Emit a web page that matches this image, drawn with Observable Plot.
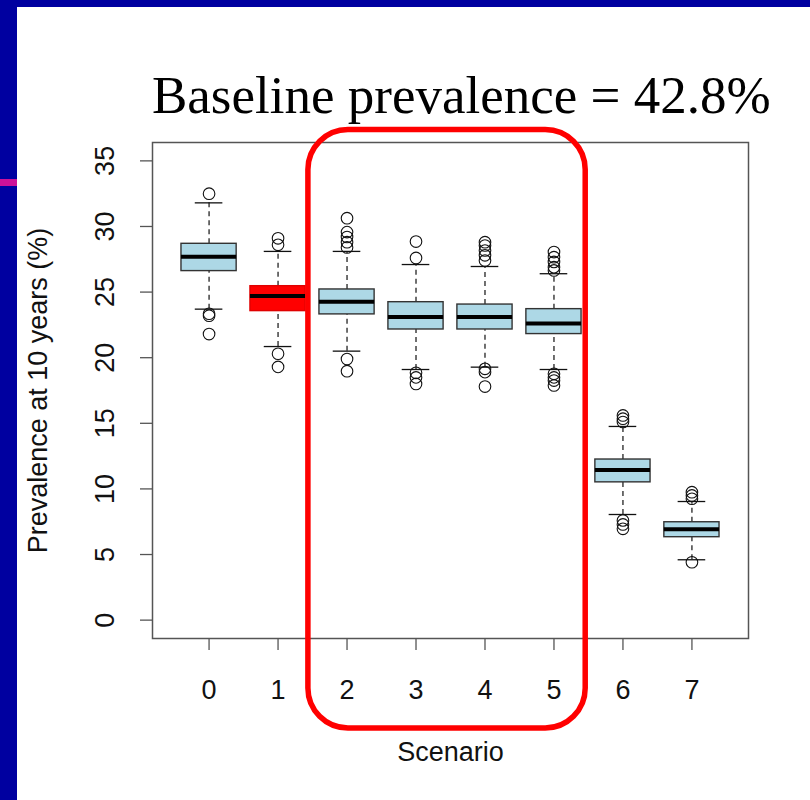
<!DOCTYPE html>
<html>
<head>
<meta charset="utf-8">
<script src="https://cdn.jsdelivr.net/npm/d3@7"></script>
<script src="https://cdn.jsdelivr.net/npm/@observablehq/plot@0.6"></script>
<style>
  body { margin: 0; background: #fff; }
  #wrap { position: relative; width: 810px; height: 800px; background: #fff; overflow: hidden; }
  #chart { position: absolute; left: 0; top: 0; }
  .band { position: absolute; background: #0000a0; }
</style>
</head>
<body>
<div id="wrap">
  <div id="chart"></div>
  <div class="band" style="left:0;top:0;width:810px;height:7px"></div>
  <div class="band" style="left:0;top:0;width:17px;height:800px"></div>
  <div style="position:absolute;left:0;top:179px;width:17px;height:7px;background:#cc1199"></div>
</div>
<script>
const titleText = "Baseline prevalence = 42.8%";
const xLabel = "Scenario";
const yLabel = "Prevalence at 10 years (%)";

const scenarios = [0, 1, 2, 3, 4, 5, 6, 7];
const q1 =          [26.6, 23.55, 23.3, 22.15, 22.15, 21.8, 10.5, 6.32];
const median =      [27.7, 24.7, 24.26, 23.1, 23.1, 22.6, 11.45, 6.93];
const q3 =          [28.68, 25.45, 25.2, 24.23, 24.05, 23.7, 12.24, 7.46];
const whiskerLow =  [23.7, 20.85, 20.5, 19.1, 19.28, 19.1, 8.05, 4.6];
const whiskerHigh = [31.8, 28.1, 28.1, 27.1, 26.95, 26.4, 14.76, 9.04];
const outliers = [
  [32.5, 23.35, 23.2, 21.8],
  [29.1, 28.6, 20.3, 19.3],
  [30.63, 29.57, 29.2, 28.8, 28.4, 19.9, 18.97],
  [28.85, 27.6, 18.85, 18.5, 18.0],
  [28.8, 28.55, 28.17, 27.8, 27.4, 19.15, 18.9, 17.8],
  [28.05, 27.66, 27.3, 26.9, 26.65, 18.77, 18.5, 18.26, 17.88],
  [15.6, 15.35, 15.1, 7.6, 7.29, 6.96],
  [9.75, 9.5, 9.25, 4.41]
];
const highlighted = 1;
const yTicks = [0, 5, 10, 15, 20, 25, 30, 35];
const xTicks = scenarios;
// highlight frame around scenarios 2-5 (data units)
const highlightBox = [{x1: 1.44, x2: 5.46, y1: -8.26, y2: 37.35}];

const boxes = scenarios.map((s, i) => ({
  s, q1: q1[i], med: median[i], q3: q3[i], lo: whiskerLow[i], hi: whiskerHigh[i]
}));
const outPts = scenarios.flatMap((s, i) => outliers[i].map(v => ({s, v})));

const font = "'Liberation Sans', Arial, sans-serif";
const half = 0.4, cap = 0.2;
const fs = 27;

const chart = Plot.plot({
  width: 810,
  height: 800,
  marginLeft: 152,
  marginRight: 62,
  marginTop: 142,
  marginBottom: 162,
  style: {background: "transparent", fontFamily: font, overflow: "visible"},
  x: {type: "linear", domain: [-0.82, 7.82]},
  y: {domain: [-1.4, 36.4]},
  marks: [
    Plot.axisX({ticks: xTicks, tickSize: 12, tickFormat: () => "", stroke: "#555", strokeWidth: 1.3, label: null}),
    Plot.axisY({ticks: yTicks, tickSize: 12, tickFormat: () => "", stroke: "#555", strokeWidth: 1.3, label: null}),
    Plot.text(xTicks, {x: d => d, frameAnchor: "bottom", dy: 52, text: d => String(d), fontSize: fs, fill: "#111", textAnchor: "middle", lineAnchor: "middle"}),
    Plot.text(yTicks, {y: d => d, frameAnchor: "left", dx: -47, rotate: -90, text: d => String(d), fontSize: fs, fill: "#111", textAnchor: "middle", lineAnchor: "middle"}),
    Plot.text([xLabel], {frameAnchor: "bottom", dy: 114, text: d => d, fontSize: fs, fill: "#111", textAnchor: "middle", lineAnchor: "middle"}),
    Plot.text([yLabel], {frameAnchor: "left", dx: -114, rotate: -90, text: d => d, fontSize: fs, fill: "#111", textAnchor: "middle", lineAnchor: "middle"}),
    // whiskers
    Plot.ruleX(boxes, {x: "s", y1: "q3", y2: "hi", stroke: "#111", strokeWidth: 1.2, strokeDasharray: "5,4"}),
    Plot.ruleX(boxes, {x: "s", y1: "lo", y2: "q1", stroke: "#111", strokeWidth: 1.2, strokeDasharray: "5,4"}),
    Plot.ruleY(boxes, {y: "hi", x1: d => d.s - cap, x2: d => d.s + cap, stroke: "#111", strokeWidth: 1.3}),
    Plot.ruleY(boxes, {y: "lo", x1: d => d.s - cap, x2: d => d.s + cap, stroke: "#111", strokeWidth: 1.3}),
    // boxes
    Plot.rect(boxes, {
      x1: d => d.s - half, x2: d => d.s + half, y1: "q1", y2: "q3",
      fill: d => d.s === highlighted ? "#ff0000" : "#add8e6",
      stroke: d => d.s === highlighted ? "#e00000" : "#333",
      strokeWidth: 1.4
    }),
    Plot.ruleY(boxes, {y: "med", x1: d => d.s - half, x2: d => d.s + half, stroke: "#000", strokeWidth: 4}),
    // outliers
    Plot.dot(outPts, {x: "s", y: "v", r: 5.8, stroke: "#111", strokeWidth: 1.1, fill: "none"}),
    Plot.frame({stroke: "#555", strokeWidth: 1.5}),
    // highlight rounded box
    Plot.rect(highlightBox, {x1: "x1", x2: "x2", y1: "y1", y2: "y2", rx: 40, ry: 40, fill: "none", stroke: "#ff0000", strokeWidth: 5.5})
  ]
});

const svg = d3.select(chart);
svg.append("text")
  .attr("x", 152)
  .attr("y", 113)
  .attr("text-anchor", "start")
  .attr("font-family", "'Liberation Serif', 'Times New Roman', serif")
  .attr("font-size", 53)
  .attr("fill", "#000")
  .text(titleText);

document.getElementById("chart").appendChild(chart);
</script>
</body>
</html>
